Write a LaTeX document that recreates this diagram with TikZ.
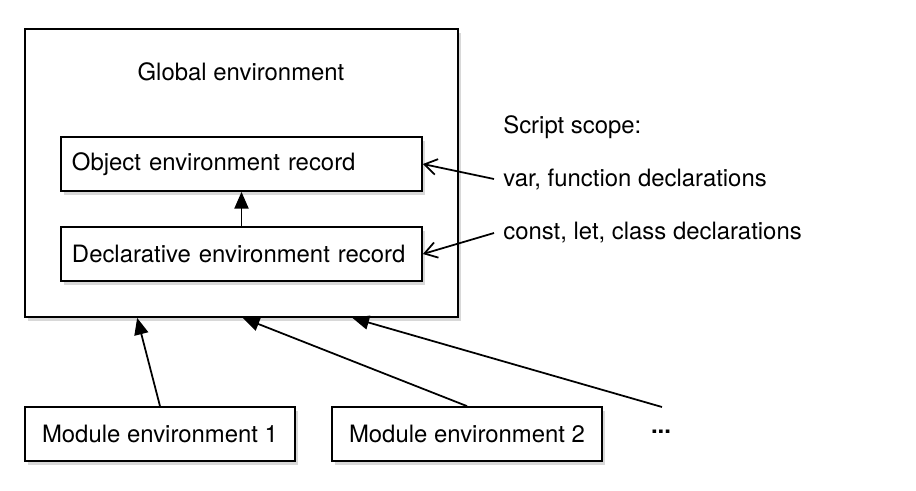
\documentclass[tikz,border=0pt]{standalone}
\usepackage{fontspec}
\setmainfont{TeX Gyre Heros}
\usetikzlibrary{arrows.meta,calc,shadows}

\tikzset{>={Triangle[length=9.5pt,width=8pt]}}
\colorlet{shadcol}{black!30}
\tikzstyle{envbox}=[draw,line width=1pt,fill=white,inner sep=0pt,
  drop shadow={fill=shadcol,shadow xshift=1.5pt,shadow yshift=-2pt}]
\tikzstyle{reclbox}=[envbox,minimum width=7.22cm,minimum height=1.08cm,
  inner xsep=0.22cm,text width=6.78cm,align=left]
\tikzstyle{modbox}=[envbox,minimum width=5.4cm,minimum height=1.08cm]
\tikzstyle{scopetxt}=[anchor=west,inner xsep=0.18cm]
\tikzstyle{openarr}=[line width=1pt,-{Straight Barb[length=7pt,width=9pt]}]
\tikzstyle{fullarr}=[line width=1pt,->]

\begin{document}
\begin{tikzpicture}[font=\fontsize{13.6}{16}\selectfont]
  \useasboundingbox (0,0) rectangle (18.32,-9.8);

  % GLOBAL ENVIRONMENT
  \node[envbox,minimum width=8.66cm,minimum height=5.76cm] (global) at (4.83,-3.46) {};
  \node (globtitle) at (4.82,-1.44) {Global environment};
  \node[reclbox] (obj) at (4.83,-3.28) {Object environment record};
  \node[reclbox] (decl) at (4.83,-5.08) {Declarative environment record};
  \draw[fullarr] (decl) -- (obj);

  % SCRIPT SCOPE
  \node[scopetxt] (scope) at (9.88,-2.54) {Script scope:};
  \node[scopetxt] (var) at (9.88,-3.58) {var, function declarations};
  \node[scopetxt] (const) at (9.88,-4.66) {const, let, class declarations};
  \draw[openarr] (var.west) -- (obj.east);
  \draw[openarr] (const.west) -- (decl.east);

  % MODULES
  \node[modbox] (mod1) at (3.2,-8.68) {Module environment 1};
  \node[modbox] (mod2) at (9.34,-8.68) {Module environment 2};
  \node (dots) at (13.22,-8.64) {\textbf{...}};
  \coordinate (dotstail) at (13.24,-8.14);
  \draw[fullarr] (mod1.north) -- ($(global.south west)!0.26!(global.south east)$);
  \draw[fullarr] (mod2.north) -- ($(global.south west)!0.503!(global.south east)$);
  \draw[fullarr] (dotstail) -- ($(global.south west)!0.755!(global.south east)$);

\end{tikzpicture}
\end{document}
